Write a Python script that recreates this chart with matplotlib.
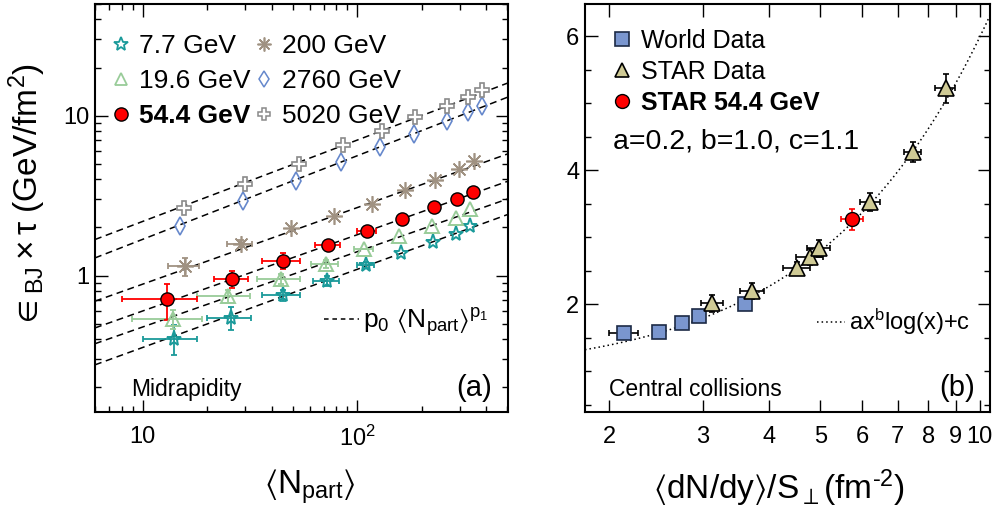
import numpy as np
import matplotlib
matplotlib.use("Agg")
import matplotlib.pyplot as plt
from matplotlib.lines import Line2D
from matplotlib.ticker import FixedLocator, FixedFormatter, NullFormatter, NullLocator, MultipleLocator, LogLocator

plt.rcParams['font.family'] = ['Liberation Sans', 'DejaVu Sans']
plt.rcParams['mathtext.fontset'] = 'custom'
plt.rcParams['mathtext.rm'] = 'Liberation Sans'
plt.rcParams['mathtext.it'] = 'Liberation Sans'
plt.rcParams['mathtext.default'] = 'regular'
plt.rcParams['mathtext.fallback'] = 'stixsans'

# ---------------- panel (a): eps_BJ * tau vs <Npart> ----------------
energies = ["7.7 GeV", "19.6 GeV", "54.4 GeV", "200 GeV", "2760 GeV", "5020 GeV"]

npart_77 = [14.0, 25.9, 44.9, 72.0, 109.7, 159.7, 226.0, 290.0, 336.0]
eps_77 = [0.402, 0.544, 0.75, 0.93, 1.16, 1.39, 1.62, 1.82, 2.05]
xerr_77 = [4.0, 6.0, 9.0, 10.0, 10.0, 0, 0, 0, 0]
yerr_77 = [0.085, 0.09, 0.06, 0.07, 0.05, 0, 0, 0, 0]

npart_196 = [13.9, 24.9, 44.1, 71.2, 107.8, 157.5, 223.5, 289.0, 337.0]
eps_196 = [0.536, 0.743, 0.953, 1.18, 1.47, 1.76, 2.05, 2.29, 2.59]
xerr_196 = [5.0, 6.9, 10.0, 10.0, 11.0, 0, 0, 0, 0]
yerr_196 = [0.07, 0.07, 0.07, 0.07, 0, 0, 0, 0, 0]

npart_544 = [13.0, 26.2, 45.1, 73.3, 110.9, 162.0, 227.0, 292.0, 346.0]
eps_544 = [0.708, 0.953, 1.24, 1.55, 1.90, 2.27, 2.67, 3.01, 3.32]
xerr_544 = [5.0, 4.8, 9.0, 10.0, 11.0, 0, 0, 0, 0]
yerr_544 = [0.18, 0.12, 0.14, 0.10, 0.06, 0, 0, 0, 0]

npart_200 = [15.7, 28.6, 49.4, 78.2, 117.5, 166.7, 230.0, 298.5, 349.0]
eps_200 = [1.14, 1.58, 1.97, 2.37, 2.79, 3.41, 3.98, 4.64, 5.21]
xerr_200 = [2.6, 3.8, 0, 0, 0, 0, 0, 0, 0]
yerr_200 = [0.14, 0.08, 0, 0, 0, 0, 0, 0, 0]

npart_2760 = [14.9, 29.5, 51.8, 84.2, 127.5, 184.0, 261.0, 330.0, 381.0]
eps_2760 = [2.03, 2.91, 3.92, 5.11, 6.40, 7.72, 9.22, 10.5, 11.55]

npart_5020 = [15.6, 30.0, 53.5, 86.0, 130.7, 185.6, 262.0, 330.0, 382.0]
eps_5020 = [2.65, 3.74, 5.01, 6.53, 7.98, 9.77, 11.55, 13.1, 14.5]

# power-law fit p0 * Npart^p1 for each energy
fit_p0 = [0.115, 0.161, 0.200, 0.293, 0.505, 0.675]
fit_p1 = [0.489, 0.471, 0.477, 0.479, 0.523, 0.509]

# ---------------- panel (b): central collisions ----------------
world_x = [2.135, 2.48, 2.747, 2.953, 3.605]
world_y = [1.562, 1.587, 1.711, 1.821, 1.995]
world_xerr = [0.135, 0, 0, 0, 0]

star_x = [3.13, 3.72, 4.52, 4.78, 4.97, 6.22, 7.47, 8.62]
star_y = [2.01, 2.194, 2.532, 2.706, 2.831, 3.527, 4.274, 5.219]
star_xerr = [0.145, 0.19, 0.27, 0.28, 0.25, 0.27, 0.29, 0.37]
star_yerr = [0.12, 0.12, 0.10, 0.12, 0.13, 0.13, 0.15, 0.22]

star544_x = [5.75]
star544_y = [3.264]
star544_xerr = [0.27]
star544_yerr = [0.15]

# a * x^b * log(x) + c
fit_a, fit_b, fit_c = 0.206, 1.013, 1.1

fig = plt.figure(figsize=(9.96, 5.13), dpi=100)
axa = fig.add_axes([0.0954, 0.1969, 0.4147, 0.7953])
axb = fig.add_axes([0.5873, 0.1969, 0.4066, 0.7953])

FS_TICK = 17


def style_axes(ax):
    for s in ax.spines.values():
        s.set_linewidth(1.5)
    ax.tick_params(which='both', direction='in', top=True, right=True, width=1.0)
    ax.tick_params(which='major', length=9, labelsize=FS_TICK)
    ax.tick_params(which='minor', length=4.5)
    ax.tick_params(axis='x', which='both', pad=10)
    ax.tick_params(axis='y', which='both', pad=4)


def draw_errors(ax, x, y, xe, ye, color, lw=1.3):
    x, y, xe, ye = map(np.asarray, (x, y, xe, ye))
    m = (xe > 0) | (ye > 0)
    ax.errorbar(x[m], y[m], xerr=xe[m], yerr=ye[m], fmt='none', ecolor=color,
                elinewidth=lw, capsize=2.5, capthick=lw, zorder=2)


# ---- panel (a)
axa.set_xscale('log')
axa.set_yscale('log')
axa.set_xlim(6.0, 505)
axa.set_ylim(0.14, 50)

xline = np.geomspace(6.0, 505, 100)
for p0, p1 in zip(fit_p0, fit_p1):
    axa.plot(xline, p0 * xline ** p1, color='black', ls=(0, (4.5, 3)), lw=1.1, zorder=1)

c77 = '#1a9a9a'
c196 = '#99cc99'
c544 = '#ff0000'
c200 = '#a09282'
c2760 = '#6688cc'
c5020 = '#8a8a8a'

draw_errors(axa, npart_77, eps_77, xerr_77, yerr_77, c77)
draw_errors(axa, npart_196, eps_196, xerr_196, yerr_196, c196)
draw_errors(axa, npart_544, eps_544, xerr_544, yerr_544, c544)
draw_errors(axa, npart_200, eps_200, xerr_200, yerr_200, c200)

axa.plot(npart_77, eps_77, ls='none', marker='*', ms=11, mfc='none', mec=c77, mew=1.4, zorder=3)
axa.plot(npart_196, eps_196, ls='none', marker='^', ms=10, mfc='none', mec=c196, mew=1.4, zorder=3)
axa.plot(npart_200, eps_200, ls='none', marker=(8, 2, 0), ms=12, mec=c200, mew=1.2, zorder=3)
axa.plot(npart_2760, eps_2760, ls='none', marker='d', ms=9, mfc='none', mec=c2760, mew=1.2, zorder=3)
axa.plot(npart_5020, eps_5020, ls='none', marker='P', ms=10, mfc='white', mec=c5020, mew=1.2, zorder=3)
axa.plot(npart_544, eps_544, ls='none', marker='o', ms=9.5, mfc=c544, mec='black', mew=1.0, zorder=4)

axa.xaxis.set_major_locator(FixedLocator([10, 100]))
axa.xaxis.set_major_formatter(FixedFormatter(['10', '$10^2$']))
axa.xaxis.set_minor_locator(LogLocator(subs=np.arange(2, 10)))
axa.xaxis.set_minor_formatter(NullFormatter())
axa.yaxis.set_major_locator(FixedLocator([1, 10]))
axa.yaxis.set_major_formatter(FixedFormatter(['1', '10']))
axa.yaxis.set_minor_locator(LogLocator(subs=np.arange(2, 10)))
axa.yaxis.set_minor_formatter(NullFormatter())
style_axes(axa)

axa.set_xlabel(r'$\langle N_{part}\rangle$', fontsize=24)
axa.xaxis.set_label_coords(0.52, -0.135)
axa.set_ylabel(r'$\in_{BJ}\times\tau$ (GeV/fm$^{2}$)', fontsize=24)
axa.yaxis.set_label_coords(-0.115, 0.53)

handles_a = [
    Line2D([], [], ls='none', marker='*', ms=10, mfc='none', mec=c77, mew=1.3),
    Line2D([], [], ls='none', marker='^', ms=9, mfc='none', mec=c196, mew=1.3),
    Line2D([], [], ls='none', marker='o', ms=9.5, mfc=c544, mec='black', mew=1.0),
    Line2D([], [], ls='none', marker=(8, 2, 0), ms=10, mec=c200, mew=1.2),
    Line2D([], [], ls='none', marker='d', ms=8, mfc='none', mec=c2760, mew=1.1),
    Line2D([], [], ls='none', marker='P', ms=9, mfc='white', mec=c5020, mew=1.1),
]
leg_a = axa.legend(handles_a, energies, ncol=2, loc='upper left', bbox_to_anchor=(0.008, 0.952),
                   frameon=False, fontsize=19, handlelength=0.9, handletextpad=0.25,
                   columnspacing=0.05, labelspacing=0.42, borderaxespad=0)
leg_a.get_texts()[2].set_fontweight('bold')
axa.add_artist(leg_a)
fit_handle_a = Line2D([], [], color='black', ls=(0, (3, 2.5)), lw=1.1)
axa.legend([fit_handle_a], [r'$p_0\ \langle N_{part}\rangle^{p_1}$'], loc='center left',
           bbox_to_anchor=(0.53, 0.22), frameon=False, fontsize=19, handlelength=1.3,
           handletextpad=0.15, borderaxespad=0)

axa.text(0.087, 0.056, 'Midrapidity', transform=axa.transAxes, fontsize=16.5, va='center', ha='left')
axa.text(0.961, 0.059, '(a)', transform=axa.transAxes, fontsize=21, va='center', ha='right')

# ---- panel (b)
axb.set_xscale('log')
axb.set_xlim(1.8, 10.45)
axb.set_ylim(0.39, 6.48)

xfit = np.geomspace(1.8, 10.45, 200)
axb.plot(xfit, fit_a * xfit ** fit_b * np.log(xfit) + fit_c, color='black', ls=(0, (1, 2)), lw=1.1, zorder=1)

cworld = '#7a96cf'
cstar = '#cfca95'
draw_errors(axb, world_x, world_y, world_xerr, [0] * len(world_x), 'black', lw=1.2)
draw_errors(axb, star_x, star_y, star_xerr, star_yerr, 'black', lw=1.2)
draw_errors(axb, star544_x, star544_y, star544_xerr, star544_yerr, c544, lw=1.2)
axb.plot(world_x, world_y, ls='none', marker='s', ms=10, mfc=cworld, mec='#1c2a45', mew=1.2, zorder=3)
axb.plot(star_x, star_y, ls='none', marker='^', ms=11, mfc=cstar, mec='black', mew=1.2, zorder=3)
axb.plot(star544_x, star544_y, ls='none', marker='o', ms=10, mfc=c544, mec='black', mew=1.0, zorder=4)

xt = [2, 3, 4, 5, 6, 7, 8, 9, 10]
axb.xaxis.set_major_locator(FixedLocator(xt))
axb.xaxis.set_major_formatter(FixedFormatter([str(v) for v in xt]))
axb.xaxis.set_minor_locator(NullLocator())
axb.yaxis.set_major_locator(FixedLocator([2, 4, 6]))
axb.yaxis.set_minor_locator(MultipleLocator(0.5))
style_axes(axb)

axb.set_xlabel(r'$\langle$dN/dy$\rangle$/S$_{\perp}$(fm$^{\text{-}2}$)', fontsize=24)
axb.xaxis.set_label_coords(0.48, -0.135)

handles_b = [
    Line2D([], [], ls='none', marker='s', ms=10, mfc=cworld, mec='#1c2a45', mew=1.2),
    Line2D([], [], ls='none', marker='^', ms=10, mfc=cstar, mec='black', mew=1.2),
    Line2D([], [], ls='none', marker='o', ms=10, mfc=c544, mec='black', mew=1.0),
]
leg_b = axb.legend(handles_b, ['World Data', 'STAR Data', 'STAR 54.4 GeV'], loc='upper left',
                   bbox_to_anchor=(0.04, 0.963), frameon=False, fontsize=18, handlelength=0.9,
                   handletextpad=0.3, labelspacing=0.28, borderaxespad=0)
leg_b.get_texts()[2].set_fontweight('bold')
axb.add_artist(leg_b)
fit_handle_b = Line2D([], [], color='black', ls=(0, (1, 2)), lw=1.1)
axb.legend([fit_handle_b], [r'$ax^{b}$log(x)+c'], loc='center left', bbox_to_anchor=(0.55, 0.22),
           frameon=False, fontsize=17, handlelength=1.2, handletextpad=0.15, borderaxespad=0)

axb.text(0.069, 0.662, f'a={fit_a:.1f}, b={fit_b:.1f}, c={fit_c:.1f}', transform=axb.transAxes,
         fontsize=20.5, va='center', ha='left')
axb.text(0.059, 0.056, 'Central collisions', transform=axb.transAxes, fontsize=16.5, va='center', ha='left')
axb.text(0.963, 0.059, '(b)', transform=axb.transAxes, fontsize=21, va='center', ha='right')

fig.savefig('out.png', dpi=100)
